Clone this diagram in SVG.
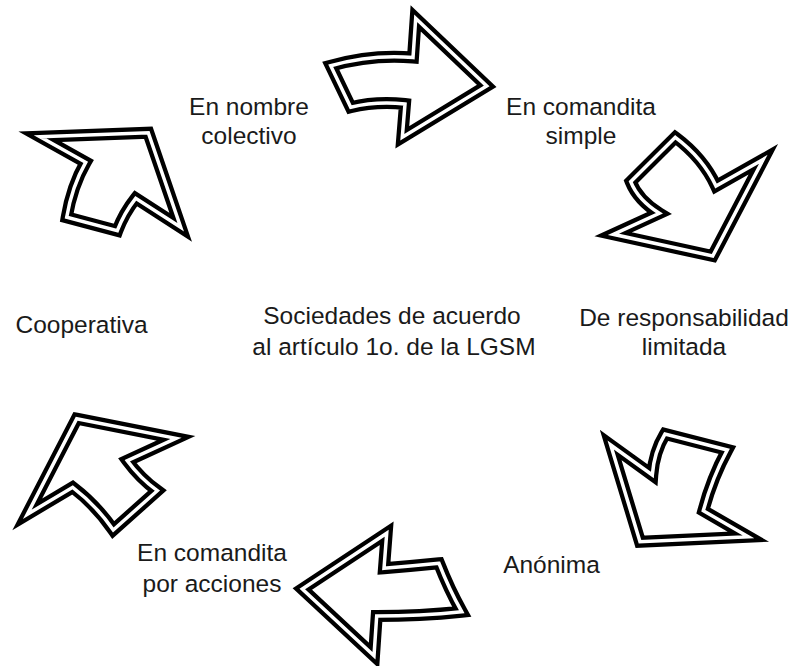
<svg xmlns="http://www.w3.org/2000/svg" xmlns:xlink="http://www.w3.org/1999/xlink" width="799" height="666" viewBox="0 0 799 666">
<style>
.lbl{font-family:"Liberation Sans",Arial,sans-serif;font-size:24.5px;fill:#1a1a1a;text-anchor:middle}
.o{fill:#fff;stroke:#000;stroke-width:12;stroke-linejoin:miter;stroke-miterlimit:20}
.i{fill:none;stroke:#fff;stroke-width:3.5;stroke-linejoin:miter;stroke-miterlimit:20}
</style>
<defs>
<path id="a1" d="M330.7,65.7 Q372,54 413,57.5 L415.7,18.3 L486.7,86 L402.3,137.3 L405,104 Q376,101 350.7,107.3 Z"/>
<path id="a2" d="M675.3,137.3 Q703,158 716,186 L763.3,159.3 L712.7,256 L613.3,234.3 L659.3,213.3 Q638,200 630.7,181.7 Z"/>
<path id="a3" d="M610.7,445 L652.3,475 Q654,452 665,434 L727.3,450 Q712,478 703.3,510.7 L748.3,536.7 L640,541.7 Z"/>
<path id="a4" d="M386.7,533.3 L384,568.3 Q412,566 439,563.3 Q449,589 461.7,611.7 Q420,616 376.7,616 L374,655.7 L302.3,589 Z"/>
<path id="a5" d="M76.7,418.7 L176,438.3 L127.3,460.7 Q140,478 157.3,490.7 L113.3,530 Q96,505 72.7,487.3 L27.3,514.3 Z"/>
<path id="a6" d="M40,136.7 L148.3,132.7 L180.7,227.3 L135.7,198.3 Q124,213 117.3,230.7 L66.7,217.3 Q72,186 85.7,162.3 Z"/>
</defs>
<g id="connectors">
<g id="arrow-top"><use xlink:href="#a1" class="o"/><use xlink:href="#a1" class="i"/></g>
<g id="arrow-right-top"><use xlink:href="#a2" class="o"/><use xlink:href="#a2" class="i"/></g>
<g id="arrow-right-bottom"><use xlink:href="#a3" class="o"/><use xlink:href="#a3" class="i"/></g>
<g id="arrow-bottom"><use xlink:href="#a4" class="o"/><use xlink:href="#a4" class="i"/></g>
<g id="arrow-left-bottom"><use xlink:href="#a5" class="o"/><use xlink:href="#a5" class="i"/></g>
<g id="arrow-left-top"><use xlink:href="#a6" class="o"/><use xlink:href="#a6" class="i"/></g>
</g>
<g id="center"><text class="lbl" x="392" y="324">Sociedades de acuerdo</text><text class="lbl" x="394" y="355">al artículo 1o. de la LGSM</text></g>
<g id="nombre-colectivo"><text class="lbl" x="249" y="115">En nombre</text><text class="lbl" x="249" y="144">colectivo</text></g>
<g id="comandita-simple"><text class="lbl" x="581" y="115">En comandita</text><text class="lbl" x="581" y="144">simple</text></g>
<g id="responsabilidad"><text class="lbl" x="684" y="326">De responsabilidad</text><text class="lbl" x="684" y="355">limitada</text></g>
<g id="anonima"><text class="lbl" x="551.5" y="573">Anónima</text></g>
<g id="comandita-acciones"><text class="lbl" x="212" y="561">En comandita</text><text class="lbl" x="212" y="592">por acciones</text></g>
<g id="cooperativa"><text class="lbl" x="81.5" y="333">Cooperativa</text></g>
</svg>
